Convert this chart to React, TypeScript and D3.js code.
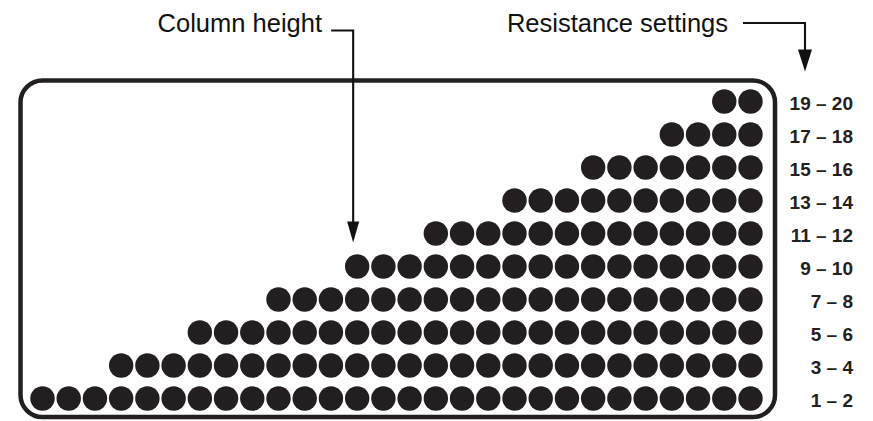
import * as d3 from "d3";

// one entry per column: how many dots are stacked in it
const columnHeights = [1, 1, 1, 2, 2, 2, 3, 3, 3, 4, 4, 4, 5, 5, 5, 6, 6, 6, 7, 7, 7, 8, 8, 8, 9, 9, 10, 10];
// resistance settings, bottom row first
const settingLabels = ["1 – 2", "3 – 4", "5 – 6", "7 – 8", "9 – 10", "11 – 12", "13 – 14", "15 – 16", "17 – 18", "19 – 20"];
const columnTitle = "Column height";
const settingsTitle = "Resistance settings";
// column the "Column height" arrow points at
const pointedColumn = 12;

const INK = "#231f20";
const FONT = "'Liberation Sans', Arial, Helvetica, sans-serif";

export default function App() {
  const width = 873;
  const height = 421;

  /* ---------------- SCALES ---------------- */

  const x = d3
    .scalePoint<number>()
    .domain(d3.range(columnHeights.length))
    .range([42.5, 750.5]);

  const y = d3
    .scalePoint<string>()
    .domain(settingLabels)
    .range([398.5, 101.5]);

  const r = 12.2;

  const dots: { col: number; row: string }[] = [];
  columnHeights.forEach((h, col) => {
    for (let i = 0; i < h; i++) dots.push({ col, row: settingLabels[i] });
  });

  /* ---------------- FRAME ---------------- */

  const boxLeft = x(0)! - 22;
  const boxRight = x(columnHeights.length - 1)! + 24.5;
  const boxTop = y(settingLabels[settingLabels.length - 1])! - 21;
  const boxBottom = y(settingLabels[0])! + 18.5;

  const labelRight = 853;

  // leader for "Column height"
  const colArrowX = x(pointedColumn)! - 4;
  const colArrowTip = y(settingLabels[columnHeights[pointedColumn] - 1])! - 24;
  const colLeaderY = 30.5;

  // leader for "Resistance settings"
  const setArrowX = labelRight - 48;
  const setArrowTip = boxTop - 9;
  const setLeaderY = 23;

  return (
    <svg
      width={width}
      height={height}
      style={{ position: "absolute", left: 0, top: 0, background: "#fff" }}
    >
      <rect
        x={boxLeft}
        y={boxTop}
        width={boxRight - boxLeft}
        height={boxBottom - boxTop}
        rx={22}
        ry={22}
        fill="none"
        stroke={INK}
        strokeWidth={4.5}
      />

      {dots.map((d, i) => (
        <circle key={i} cx={x(d.col)} cy={y(d.row)} r={r} fill={INK} />
      ))}

      {settingLabels.map(l => (
        <text
          key={l}
          x={labelRight}
          y={y(l)! + 8}
          textAnchor="end"
          fontFamily={FONT}
          fontWeight="bold"
          fontSize={19}
          fill={INK}
        >
          {l}
        </text>
      ))}

      {/* Column height annotation */}
      <text x={322} y={32} textAnchor="end" fontFamily={FONT} fontSize={25.5} fill="#111">
        {columnTitle}
      </text>
      <path
        d={`M${colArrowX - 22},${colLeaderY}H${colArrowX}V${colArrowTip - 20}`}
        fill="none"
        stroke="#111"
        strokeWidth={2.1}
      />
      <path
        d={`M${colArrowX - 6},${colArrowTip - 21}L${colArrowX + 6},${colArrowTip - 21}L${colArrowX},${colArrowTip}Z`}
        fill="#111"
      />

      {/* Resistance settings annotation */}
      <text x={728} y={32} textAnchor="end" fontFamily={FONT} fontSize={25.5} fill="#111">
        {settingsTitle}
      </text>
      <path
        d={`M${setArrowX - 62},${setLeaderY}H${setArrowX}V${setArrowTip - 20}`}
        fill="none"
        stroke="#111"
        strokeWidth={2.1}
      />
      <path
        d={`M${setArrowX - 7},${setArrowTip - 22}L${setArrowX + 7},${setArrowTip - 22}L${setArrowX},${setArrowTip}Z`}
        fill="#111"
      />
    </svg>
  );
}
